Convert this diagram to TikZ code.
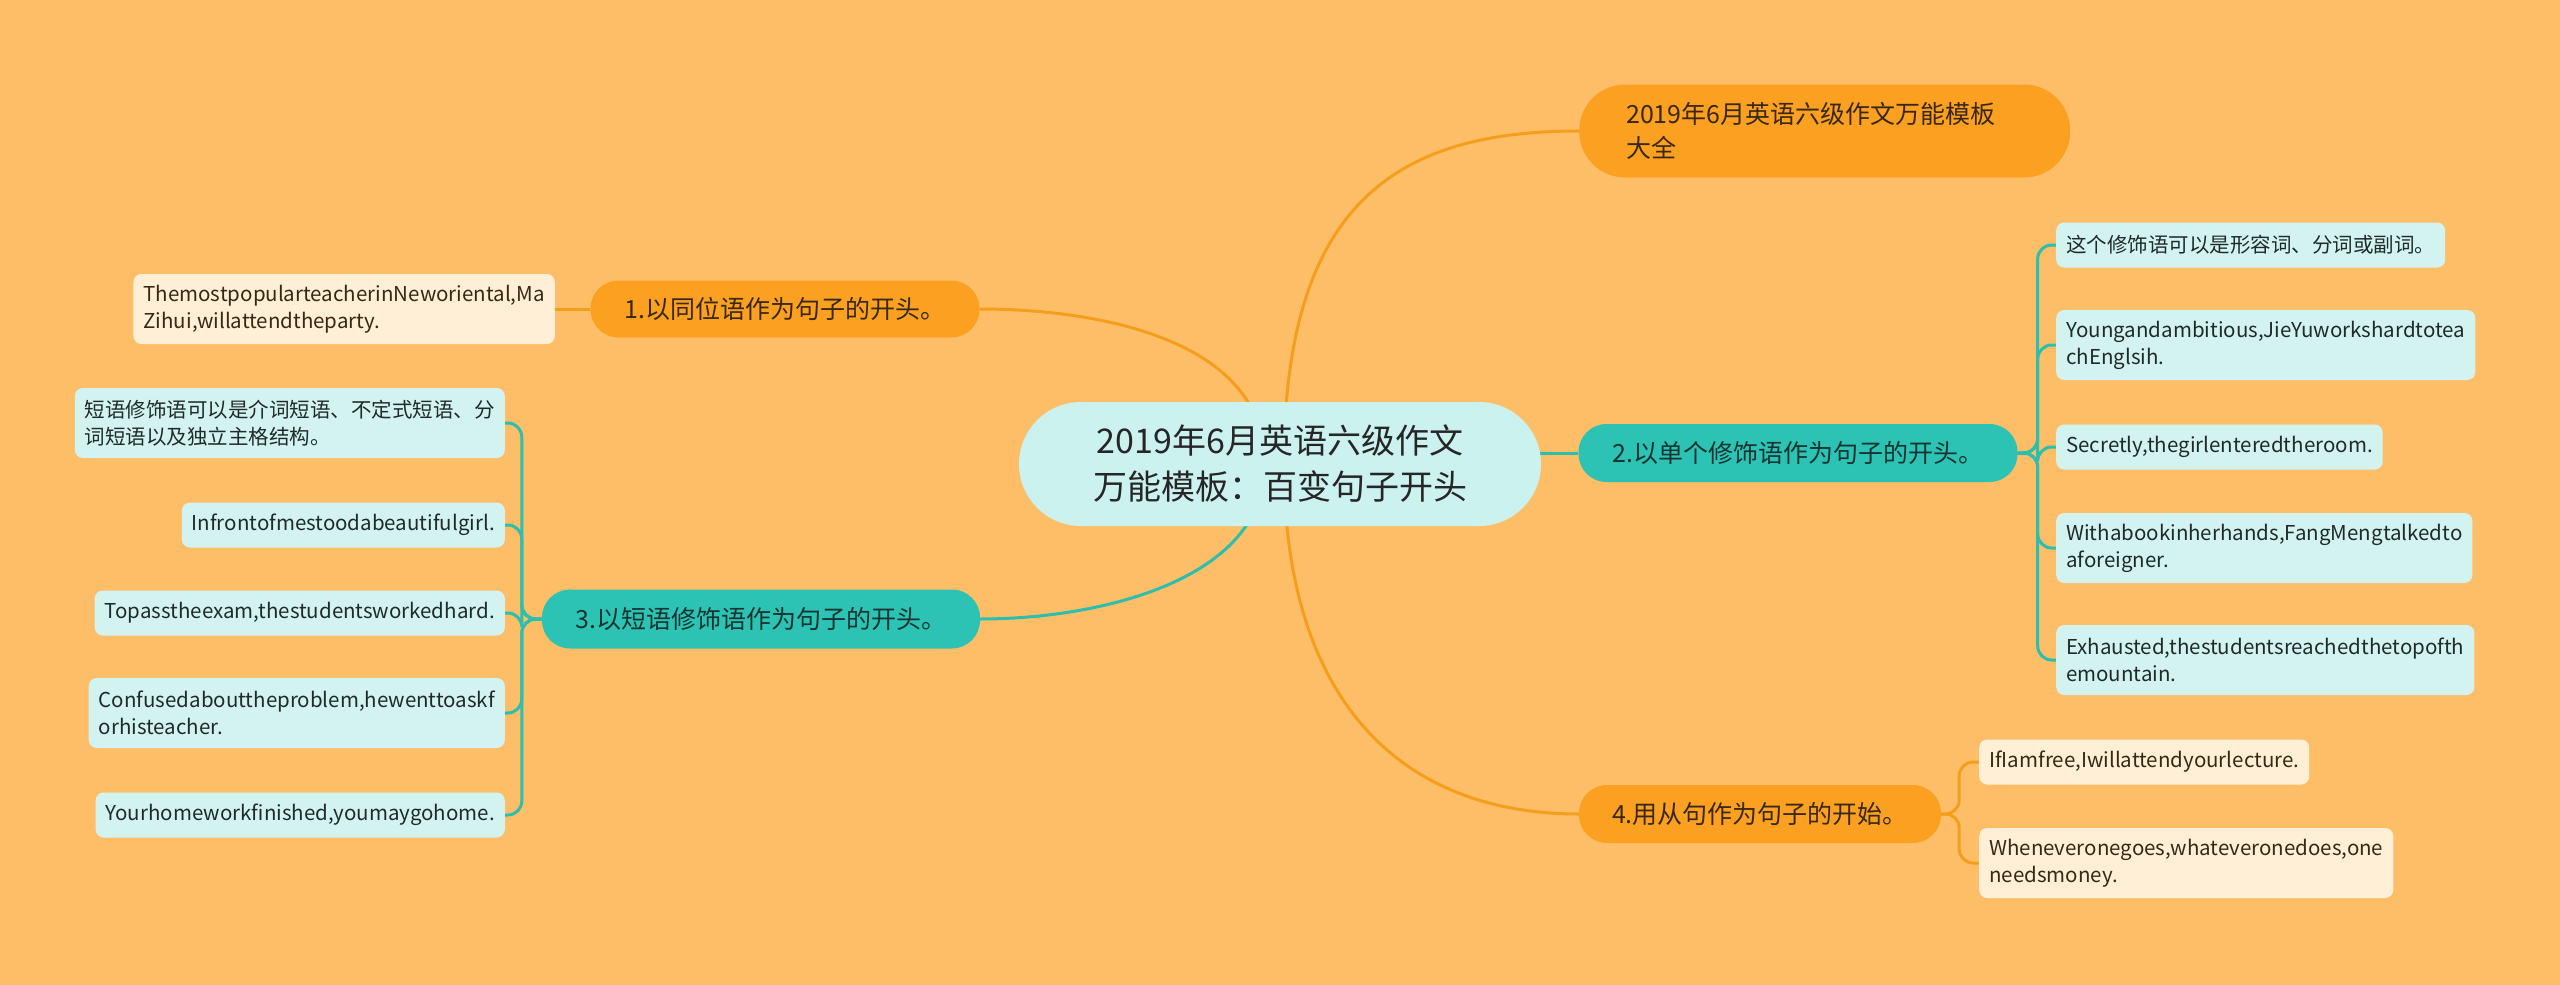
\documentclass[tikz,border=0pt]{standalone}
\usepackage{fontspec}
\setmainfont{Noto Sans CJK SC}
\usetikzlibrary{backgrounds,calc}
\definecolor{bgc}{HTML}{FEBE68}
\definecolor{orangec}{HTML}{FBA020}
\definecolor{tealc}{HTML}{2DC3B4}
\definecolor{rootc}{HTML}{CBF2EF}
\definecolor{cyanc}{HTML}{D3F3F0}
\definecolor{creamc}{HTML}{FFEFD6}
\definecolor{olinec}{HTML}{F59E1C}
\definecolor{tlinec}{HTML}{2DBFAD}
\definecolor{otext}{HTML}{3A2814}
\definecolor{ttext}{HTML}{163431}
\definecolor{ctext}{HTML}{1E2B2A}
\definecolor{rtext}{HTML}{262626}
\begin{document}
\begin{tikzpicture}[x=1pt,y=-1pt,
  mainbox/.style={inner sep=0pt, align=center, font=\fontsize{25}{33}\selectfont},
  orangebox/.style={mainbox, fill=orangec, text=otext, rounded corners=28},
  tealbox/.style={mainbox, fill=tealc, text=ttext, rounded corners=28},
  leafbox/.style={inner xsep=10, inner ysep=4, rounded corners=8, align=left, font=\fontsize{20.5}{27}\selectfont, minimum height=45},
  cyanleaf/.style={leafbox, fill=cyanc, text=ctext},
  creamleaf/.style={leafbox, fill=creamc, text=otext},
  twoline/.style={minimum height=70},
  oline/.style={draw=olinec, line width=3},
  tline/.style={draw=tlinec, line width=3},
]
\useasboundingbox (0,0) rectangle (2560,985);

% root
\node[inner sep=0, minimum width=522, minimum height=124, rounded corners=62, fill=rootc, text=rtext, align=center, font=\fontsize{34}{46}\selectfont] (root) at (1280,464) {2019年6月英语六级作文\\万能模板：百变句子开头};

% main branches
\node[orangebox, anchor=west, minimum height=93, rounded corners=46, inner xsep=47, text width=397, align=left, font=\fontsize{25}{34}\selectfont] (n0) at (1579,131) {2019年6月英语六级作文万能模板\\大全};
\node[orangebox, minimum width=389, minimum height=57] (n1) at (785,309) {1.以同位语作为句子的开头。};
\node[tealbox, minimum width=439, minimum height=58] (n2) at (1798,453) {2.以单个修饰语作为句子的开头。};
\node[tealbox, minimum width=438, minimum height=59] (n3) at (761,619) {3.以短语修饰语作为句子的开头。};
\node[orangebox, minimum width=362, minimum height=58] (n4) at (1760,814) {4.用从句作为句子的开始。};

% leaves of 1
\node[creamleaf, twoline, anchor=east] (c11) at (555,309) {ThemostpopularteacherinNeworiental,Ma\\Zihui,willattendtheparty.};

% leaves of 2
\node[cyanleaf, anchor=west] (c21) at (2056,245) {这个修饰语可以是形容词、分词或副词。};
\node[cyanleaf, twoline, anchor=west] (c22) at (2056,345) {Youngandambitious,JieYuworkshardtotea\\chEnglsih.};
\node[cyanleaf, anchor=west] (c23) at (2056,447) {Secretly,thegirlenteredtheroom.};
\node[cyanleaf, twoline, anchor=west] (c24) at (2056,548) {Withabookinherhands,FangMengtalkedto\\aforeigner.};
\node[cyanleaf, twoline, anchor=west] (c25) at (2056,660) {Exhausted,thestudentsreachedthetopofth\\emountain.};

% leaves of 3
\node[cyanleaf, twoline, anchor=east] (c31) at (505,423) {短语修饰语可以是介词短语、不定式短语、分\\词短语以及独立主格结构。};
\node[cyanleaf, anchor=east] (c32) at (505,525) {Infrontofmestoodabeautifulgirl.};
\node[cyanleaf, anchor=east] (c33) at (505,613) {Topasstheexam,thestudentsworkedhard.};
\node[cyanleaf, twoline, anchor=east] (c34) at (505,713) {Confusedabouttheproblem,hewenttoaskf\\orhisteacher.};
\node[cyanleaf, anchor=east] (c35) at (505,815) {Yourhomeworkfinished,youmaygohome.};

% leaves of 4
\node[creamleaf, anchor=west] (c41) at (1979,762) {IfIamfree,Iwillattendyourlecture.};
\node[creamleaf, twoline, anchor=west] (c42) at (1979,863) {Wheneveronegoes,whateveronedoes,one\\needsmoney.};

\begin{pgfonlayer}{background}
\fill[bgc] (0,0) rectangle (2560,985);
% root connectors
\draw[oline] ($(root.center)+(4,0)$) .. controls (1284,200) and (1400,131) .. (n0.west);
\draw[oline] ($(root.center)+(-15,0)$) .. controls (1265,340) and (1100,309) .. (n1.east);
\draw[tline] (n2.west -| root.center) -- (n2.west);
\draw[tline] ($(root.center)+(-15,0)$) .. controls (1265,580) and (1100,619) .. (n3.east);
\draw[oline] ($(root.center)+(4,0)$) .. controls (1284,700) and (1400,814) .. (n4.west);
% branch 1
\draw[oline] (n1.west) -- (c11.east);
% branch 2
\foreach \c in {c21,c22,c23,c24,c25}
  \draw[tline, rounded corners=14] (n2.east) -- ($(n2.east)+(20,0)$) |- (\c.west);
% branch 3
\foreach \c in {c31,c32,c33,c34,c35}
  \draw[tline, rounded corners=14] (n3.west) -- ($(n3.west)+(-20,0)$) |- (\c.east);
% branch 4
\foreach \c in {c41,c42}
  \draw[oline, rounded corners=14] (n4.east) -- ($(n4.east)+(18,0)$) |- (\c.west);
\end{pgfonlayer}
\end{tikzpicture}
\end{document}
